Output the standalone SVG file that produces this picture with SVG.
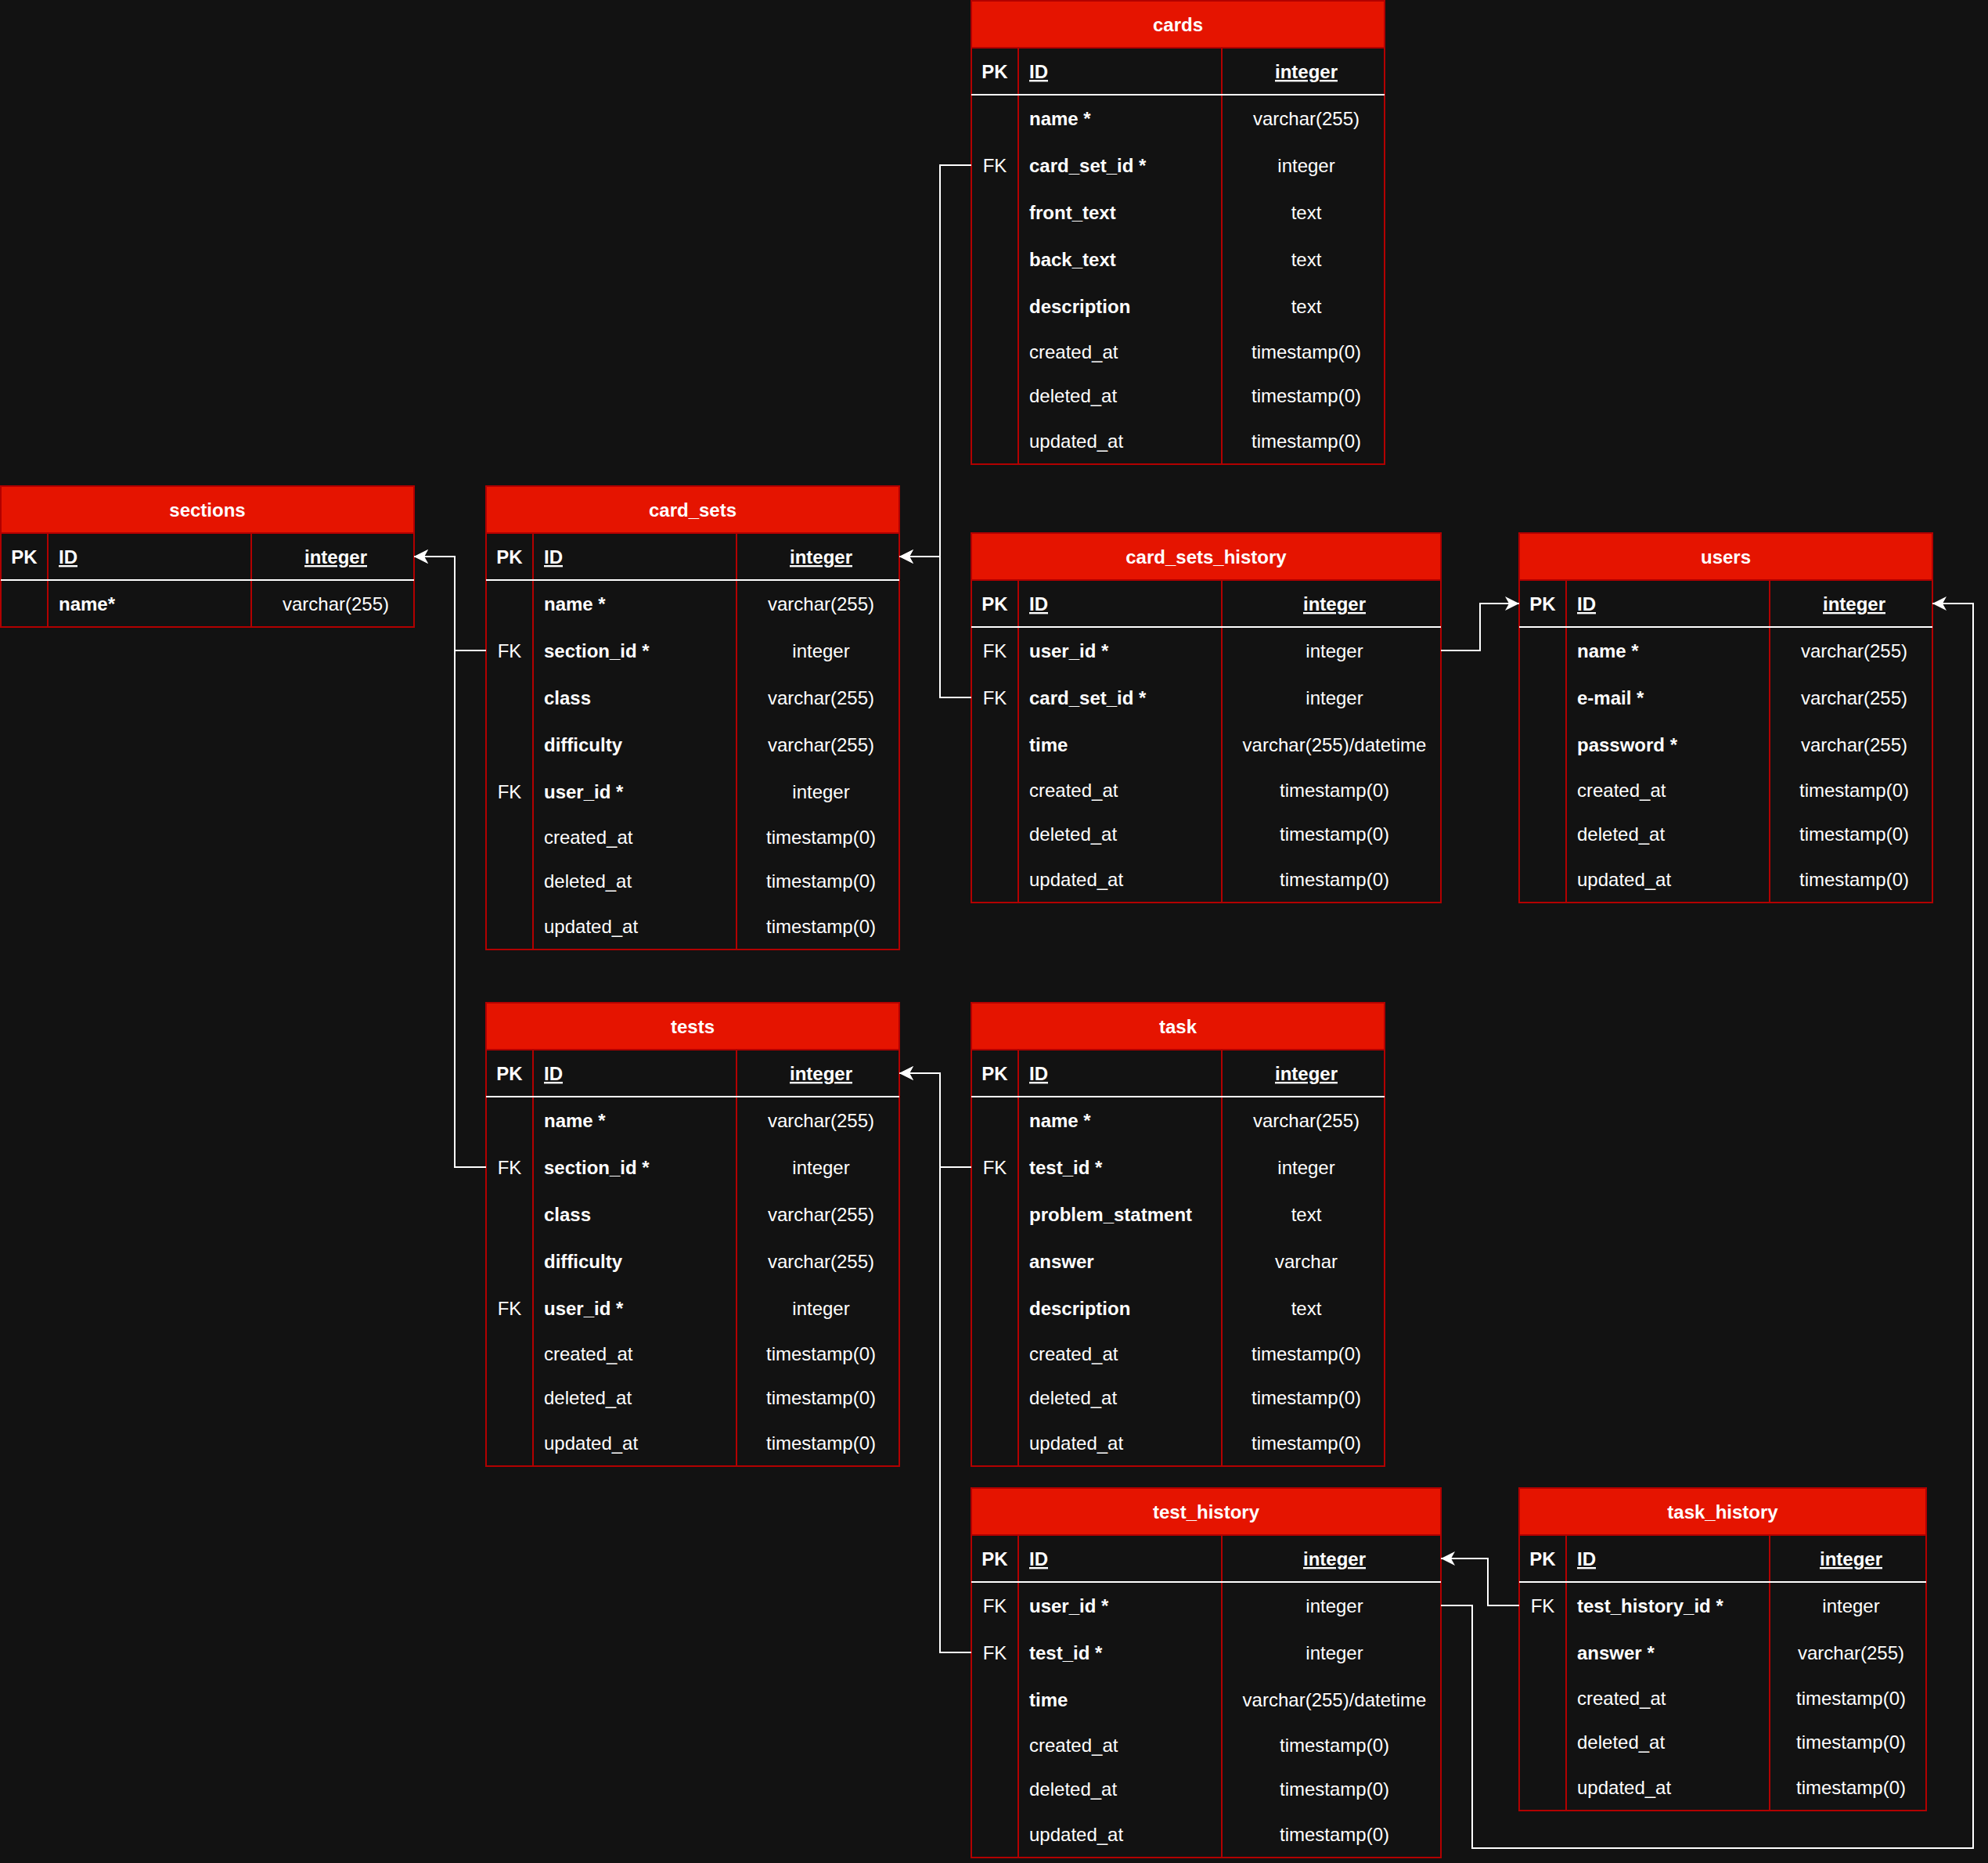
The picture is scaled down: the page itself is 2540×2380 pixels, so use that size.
<svg xmlns="http://www.w3.org/2000/svg" width="2540" height="2380" viewBox="0 0 2540 2380">
  <style>
    .bg { fill: #121212; }
    .body { fill: #121212; stroke: #B20000; stroke-width: 2; }
    .head { fill: #E51400; stroke: #B20000; stroke-width: 2; }
    .col { stroke: #B20000; stroke-width: 2; }
    .sep { stroke: #FFFFFF; stroke-width: 2; }
    text { font-family: "Liberation Sans", Arial, Helvetica, sans-serif; font-size: 24px; fill: #FFFFFF; }
    .title { font-weight: bold; text-anchor: middle; }
    .key { text-anchor: middle; }
    .b { font-weight: bold; }
    .u { text-decoration: underline; }
    .type { text-anchor: middle; }
    .link { fill: none; stroke: #FFFFFF; stroke-width: 2; }
  </style>
  <defs>
    <marker id="arrow" viewBox="0 0 20 20" refX="18" refY="10" markerWidth="20" markerHeight="20" markerUnits="userSpaceOnUse" orient="auto">
      <path d="M0,1 L18,10 L0,19 L5,10 Z" fill="#FFFFFF"/>
    </marker>
  </defs>

  <rect class="bg" x="0" y="0" width="2540" height="2380"/>

  <!-- sections -->
  <g id="sections">
    <rect class="body" x="1" y="621" width="528" height="180"/>
    <rect class="head" x="1" y="621" width="528" height="60"/>
    <line class="col" x1="61" y1="681" x2="61" y2="801"/>
    <line class="col" x1="321" y1="681" x2="321" y2="801"/>
    <line class="sep" x1="1" y1="741" x2="529" y2="741"/>
    <text class="title" x="265" y="660">sections</text>
    <text class="key b" x="31" y="720">PK</text>
    <text class="b u" x="75" y="720">ID</text>
    <text class="type b u" x="429" y="720">integer</text>
    <text class="b" x="75" y="780">name*</text>
    <text class="type" x="429" y="780">varchar(255)</text>
  </g>

  <!-- card_sets -->
  <g id="card_sets">
    <rect class="body" x="621" y="621" width="528" height="592"/>
    <rect class="head" x="621" y="621" width="528" height="60"/>
    <line class="col" x1="681" y1="681" x2="681" y2="1213"/>
    <line class="col" x1="941" y1="681" x2="941" y2="1213"/>
    <line class="sep" x1="621" y1="741" x2="1149" y2="741"/>
    <text class="title" x="885" y="660">card_sets</text>
    <text class="key b" x="651" y="720">PK</text>
    <text class="b u" x="695" y="720">ID</text>
    <text class="type b u" x="1049" y="720">integer</text>
    <text class="b" x="695" y="780">name *</text>
    <text class="type" x="1049" y="780">varchar(255)</text>
    <text class="key" x="651" y="840">FK</text>
    <text class="b" x="695" y="840">section_id *</text>
    <text class="type" x="1049" y="840">integer</text>
    <text class="b" x="695" y="900">class</text>
    <text class="type" x="1049" y="900">varchar(255)</text>
    <text class="b" x="695" y="960">difficulty</text>
    <text class="type" x="1049" y="960">varchar(255)</text>
    <text class="key" x="651" y="1020">FK</text>
    <text class="b" x="695" y="1020">user_id *</text>
    <text class="type" x="1049" y="1020">integer</text>
    <text x="695" y="1078">created_at</text>
    <text class="type" x="1049" y="1078">timestamp(0)</text>
    <text x="695" y="1134">deleted_at</text>
    <text class="type" x="1049" y="1134">timestamp(0)</text>
    <text x="695" y="1192">updated_at</text>
    <text class="type" x="1049" y="1192">timestamp(0)</text>
  </g>

  <!-- cards -->
  <g id="cards">
    <rect class="body" x="1241" y="1" width="528" height="592"/>
    <rect class="head" x="1241" y="1" width="528" height="60"/>
    <line class="col" x1="1301" y1="61" x2="1301" y2="593"/>
    <line class="col" x1="1561" y1="61" x2="1561" y2="593"/>
    <line class="sep" x1="1241" y1="121" x2="1769" y2="121"/>
    <text class="title" x="1505" y="40">cards</text>
    <text class="key b" x="1271" y="100">PK</text>
    <text class="b u" x="1315" y="100">ID</text>
    <text class="type b u" x="1669" y="100">integer</text>
    <text class="b" x="1315" y="160">name *</text>
    <text class="type" x="1669" y="160">varchar(255)</text>
    <text class="key" x="1271" y="220">FK</text>
    <text class="b" x="1315" y="220">card_set_id *</text>
    <text class="type" x="1669" y="220">integer</text>
    <text class="b" x="1315" y="280">front_text</text>
    <text class="type" x="1669" y="280">text</text>
    <text class="b" x="1315" y="340">back_text</text>
    <text class="type" x="1669" y="340">text</text>
    <text class="b" x="1315" y="400">description</text>
    <text class="type" x="1669" y="400">text</text>
    <text x="1315" y="458">created_at</text>
    <text class="type" x="1669" y="458">timestamp(0)</text>
    <text x="1315" y="514">deleted_at</text>
    <text class="type" x="1669" y="514">timestamp(0)</text>
    <text x="1315" y="572">updated_at</text>
    <text class="type" x="1669" y="572">timestamp(0)</text>
  </g>

  <!-- card_sets_history -->
  <g id="card_sets_history">
    <rect class="body" x="1241" y="681" width="600" height="472"/>
    <rect class="head" x="1241" y="681" width="600" height="60"/>
    <line class="col" x1="1301" y1="741" x2="1301" y2="1153"/>
    <line class="col" x1="1561" y1="741" x2="1561" y2="1153"/>
    <line class="sep" x1="1241" y1="801" x2="1841" y2="801"/>
    <text class="title" x="1541" y="720">card_sets_history</text>
    <text class="key b" x="1271" y="780">PK</text>
    <text class="b u" x="1315" y="780">ID</text>
    <text class="type b u" x="1705" y="780">integer</text>
    <text class="key" x="1271" y="840">FK</text>
    <text class="b" x="1315" y="840">user_id *</text>
    <text class="type" x="1705" y="840">integer</text>
    <text class="key" x="1271" y="900">FK</text>
    <text class="b" x="1315" y="900">card_set_id *</text>
    <text class="type" x="1705" y="900">integer</text>
    <text class="b" x="1315" y="960">time</text>
    <text class="type" x="1705" y="960">varchar(255)/datetime</text>
    <text x="1315" y="1018">created_at</text>
    <text class="type" x="1705" y="1018">timestamp(0)</text>
    <text x="1315" y="1074">deleted_at</text>
    <text class="type" x="1705" y="1074">timestamp(0)</text>
    <text x="1315" y="1132">updated_at</text>
    <text class="type" x="1705" y="1132">timestamp(0)</text>
  </g>

  <!-- users -->
  <g id="users">
    <rect class="body" x="1941" y="681" width="528" height="472"/>
    <rect class="head" x="1941" y="681" width="528" height="60"/>
    <line class="col" x1="2001" y1="741" x2="2001" y2="1153"/>
    <line class="col" x1="2261" y1="741" x2="2261" y2="1153"/>
    <line class="sep" x1="1941" y1="801" x2="2469" y2="801"/>
    <text class="title" x="2205" y="720">users</text>
    <text class="key b" x="1971" y="780">PK</text>
    <text class="b u" x="2015" y="780">ID</text>
    <text class="type b u" x="2369" y="780">integer</text>
    <text class="b" x="2015" y="840">name *</text>
    <text class="type" x="2369" y="840">varchar(255)</text>
    <text class="b" x="2015" y="900">e-mail *</text>
    <text class="type" x="2369" y="900">varchar(255)</text>
    <text class="b" x="2015" y="960">password *</text>
    <text class="type" x="2369" y="960">varchar(255)</text>
    <text x="2015" y="1018">created_at</text>
    <text class="type" x="2369" y="1018">timestamp(0)</text>
    <text x="2015" y="1074">deleted_at</text>
    <text class="type" x="2369" y="1074">timestamp(0)</text>
    <text x="2015" y="1132">updated_at</text>
    <text class="type" x="2369" y="1132">timestamp(0)</text>
  </g>

  <!-- tests -->
  <g id="tests">
    <rect class="body" x="621" y="1281" width="528" height="592"/>
    <rect class="head" x="621" y="1281" width="528" height="60"/>
    <line class="col" x1="681" y1="1341" x2="681" y2="1873"/>
    <line class="col" x1="941" y1="1341" x2="941" y2="1873"/>
    <line class="sep" x1="621" y1="1401" x2="1149" y2="1401"/>
    <text class="title" x="885" y="1320">tests</text>
    <text class="key b" x="651" y="1380">PK</text>
    <text class="b u" x="695" y="1380">ID</text>
    <text class="type b u" x="1049" y="1380">integer</text>
    <text class="b" x="695" y="1440">name *</text>
    <text class="type" x="1049" y="1440">varchar(255)</text>
    <text class="key" x="651" y="1500">FK</text>
    <text class="b" x="695" y="1500">section_id *</text>
    <text class="type" x="1049" y="1500">integer</text>
    <text class="b" x="695" y="1560">class</text>
    <text class="type" x="1049" y="1560">varchar(255)</text>
    <text class="b" x="695" y="1620">difficulty</text>
    <text class="type" x="1049" y="1620">varchar(255)</text>
    <text class="key" x="651" y="1680">FK</text>
    <text class="b" x="695" y="1680">user_id *</text>
    <text class="type" x="1049" y="1680">integer</text>
    <text x="695" y="1738">created_at</text>
    <text class="type" x="1049" y="1738">timestamp(0)</text>
    <text x="695" y="1794">deleted_at</text>
    <text class="type" x="1049" y="1794">timestamp(0)</text>
    <text x="695" y="1852">updated_at</text>
    <text class="type" x="1049" y="1852">timestamp(0)</text>
  </g>

  <!-- task -->
  <g id="task">
    <rect class="body" x="1241" y="1281" width="528" height="592"/>
    <rect class="head" x="1241" y="1281" width="528" height="60"/>
    <line class="col" x1="1301" y1="1341" x2="1301" y2="1873"/>
    <line class="col" x1="1561" y1="1341" x2="1561" y2="1873"/>
    <line class="sep" x1="1241" y1="1401" x2="1769" y2="1401"/>
    <text class="title" x="1505" y="1320">task</text>
    <text class="key b" x="1271" y="1380">PK</text>
    <text class="b u" x="1315" y="1380">ID</text>
    <text class="type b u" x="1669" y="1380">integer</text>
    <text class="b" x="1315" y="1440">name *</text>
    <text class="type" x="1669" y="1440">varchar(255)</text>
    <text class="key" x="1271" y="1500">FK</text>
    <text class="b" x="1315" y="1500">test_id *</text>
    <text class="type" x="1669" y="1500">integer</text>
    <text class="b" x="1315" y="1560">problem_statment</text>
    <text class="type" x="1669" y="1560">text</text>
    <text class="b" x="1315" y="1620">answer</text>
    <text class="type" x="1669" y="1620">varchar</text>
    <text class="b" x="1315" y="1680">description</text>
    <text class="type" x="1669" y="1680">text</text>
    <text x="1315" y="1738">created_at</text>
    <text class="type" x="1669" y="1738">timestamp(0)</text>
    <text x="1315" y="1794">deleted_at</text>
    <text class="type" x="1669" y="1794">timestamp(0)</text>
    <text x="1315" y="1852">updated_at</text>
    <text class="type" x="1669" y="1852">timestamp(0)</text>
  </g>

  <!-- test_history -->
  <g id="test_history">
    <rect class="body" x="1241" y="1901" width="600" height="472"/>
    <rect class="head" x="1241" y="1901" width="600" height="60"/>
    <line class="col" x1="1301" y1="1961" x2="1301" y2="2373"/>
    <line class="col" x1="1561" y1="1961" x2="1561" y2="2373"/>
    <line class="sep" x1="1241" y1="2021" x2="1841" y2="2021"/>
    <text class="title" x="1541" y="1940">test_history</text>
    <text class="key b" x="1271" y="2000">PK</text>
    <text class="b u" x="1315" y="2000">ID</text>
    <text class="type b u" x="1705" y="2000">integer</text>
    <text class="key" x="1271" y="2060">FK</text>
    <text class="b" x="1315" y="2060">user_id *</text>
    <text class="type" x="1705" y="2060">integer</text>
    <text class="key" x="1271" y="2120">FK</text>
    <text class="b" x="1315" y="2120">test_id *</text>
    <text class="type" x="1705" y="2120">integer</text>
    <text class="b" x="1315" y="2180">time</text>
    <text class="type" x="1705" y="2180">varchar(255)/datetime</text>
    <text x="1315" y="2238">created_at</text>
    <text class="type" x="1705" y="2238">timestamp(0)</text>
    <text x="1315" y="2294">deleted_at</text>
    <text class="type" x="1705" y="2294">timestamp(0)</text>
    <text x="1315" y="2352">updated_at</text>
    <text class="type" x="1705" y="2352">timestamp(0)</text>
  </g>

  <!-- task_history -->
  <g id="task_history">
    <rect class="body" x="1941" y="1901" width="520" height="412"/>
    <rect class="head" x="1941" y="1901" width="520" height="60"/>
    <line class="col" x1="2001" y1="1961" x2="2001" y2="2313"/>
    <line class="col" x1="2261" y1="1961" x2="2261" y2="2313"/>
    <line class="sep" x1="1941" y1="2021" x2="2461" y2="2021"/>
    <text class="title" x="2201" y="1940">task_history</text>
    <text class="key b" x="1971" y="2000">PK</text>
    <text class="b u" x="2015" y="2000">ID</text>
    <text class="type b u" x="2365" y="2000">integer</text>
    <text class="key" x="1971" y="2060">FK</text>
    <text class="b" x="2015" y="2060">test_history_id *</text>
    <text class="type" x="2365" y="2060">integer</text>
    <text class="b" x="2015" y="2120">answer *</text>
    <text class="type" x="2365" y="2120">varchar(255)</text>
    <text x="2015" y="2178">created_at</text>
    <text class="type" x="2365" y="2178">timestamp(0)</text>
    <text x="2015" y="2234">deleted_at</text>
    <text class="type" x="2365" y="2234">timestamp(0)</text>
    <text x="2015" y="2292">updated_at</text>
    <text class="type" x="2365" y="2292">timestamp(0)</text>
  </g>

  <!-- foreign key connectors: FK column to referenced ID -->
  <g id="connectors">
    <path class="link" d="M1241,211 H1201 V711 H1149" marker-end="url(#arrow)"/>
    <path class="link" d="M1241,891 H1201 V711 H1149" marker-end="url(#arrow)"/>
    <path class="link" d="M621,831 H581 V711 H529" marker-end="url(#arrow)"/>
    <path class="link" d="M621,1491 H581 V711 H529" marker-end="url(#arrow)"/>
    <path class="link" d="M1841,831 H1891 V771 H1941" marker-end="url(#arrow)"/>
    <path class="link" d="M1841,2051 H1881 V2361 H2521 V771 H2469" marker-end="url(#arrow)"/>
    <path class="link" d="M1241,1491 H1201 V1371 H1149" marker-end="url(#arrow)"/>
    <path class="link" d="M1241,2111 H1201 V1371 H1149" marker-end="url(#arrow)"/>
    <path class="link" d="M1941,2051 H1901 V1991 H1841" marker-end="url(#arrow)"/>
  </g>
</svg>
